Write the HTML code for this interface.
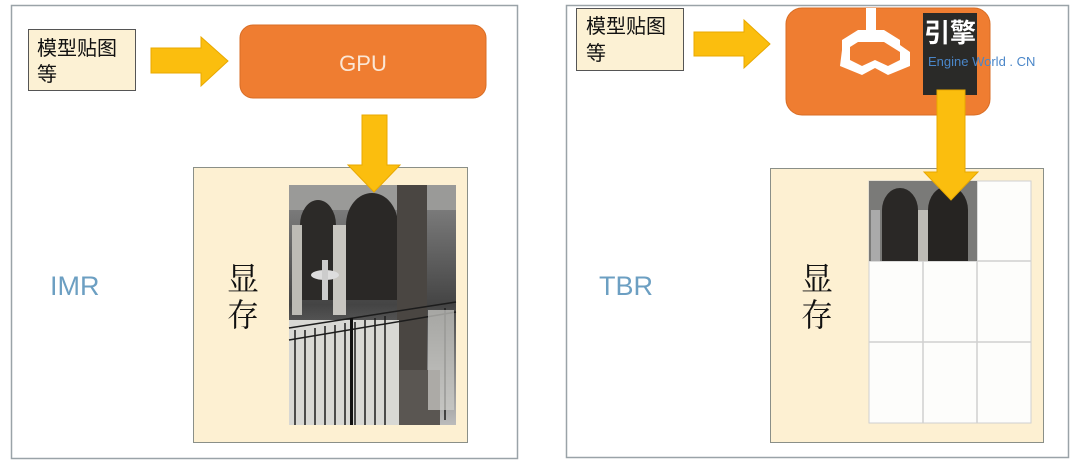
<!DOCTYPE html>
<html><head><meta charset="utf-8"><style>
html,body{margin:0;padding:0;background:#fff;width:1080px;height:467px;overflow:hidden}
svg text{font-family:"Liberation Sans","Noto Sans CJK SC",sans-serif}
svg text.sr{font-family:"Liberation Serif","Noto Serif CJK SC",serif}
</style></head><body>
<svg width="1080" height="467" viewBox="0 0 1080 467" xmlns="http://www.w3.org/2000/svg">
<defs>
<linearGradient id="ph" x1="0" y1="0" x2="0" y2="1">
<stop offset="0" stop-color="#888"/><stop offset="0.5" stop-color="#444"/><stop offset="1" stop-color="#bbb"/>
</linearGradient>
</defs>
<rect x="11.5" y="5.5" width="506" height="453" fill="#fff" stroke="#9aa3a8" stroke-width="1.5"/>
<rect x="566.5" y="5.5" width="502" height="452" fill="#fff" stroke="#9aa3a8" stroke-width="1.5"/>

<!-- LEFT -->
<rect x="28.5" y="29.5" width="107" height="61" fill="#fcf1d4" stroke="#555" stroke-width="1"/>
<text x="37" y="55" font-size="20" fill="#111">模型贴图</text>
<text x="37" y="81" font-size="20" fill="#111">等</text>
<polygon points="151,48 201,48 201,37 228,61 201,86 201,73 151,73" fill="#fbbe0e" stroke="#e8a800"/>
<rect x="240" y="25" width="246" height="73" rx="13" fill="#ef7d31" stroke="#d86d25"/>
<text x="363" y="71" font-size="22" fill="#fbe7d6" text-anchor="middle">GPU</text>
<rect x="193.5" y="167.5" width="274" height="275" fill="#fdf0d2" stroke="#8a8f88" stroke-width="1"/>
<g>
<rect x="289" y="185" width="167" height="240" fill="url(#ph)"/>
<path d="M289,185h167v25h-167z" fill="#9a9a98"/>
<path d="M300,300 V225 a18,25 0 0 1 36,0 V300z" fill="#2c2a28"/>
<path d="M346,300 V225 a26,32 0 0 1 52,0 V300z" fill="#2a2826"/>
<rect x="333" y="225" width="13" height="90" fill="#c8c6c0"/>
<rect x="292" y="225" width="10" height="90" fill="#bdbbb5"/>
<rect x="397" y="185" width="30" height="210" fill="#4a4642"/>
<rect x="390" y="370" width="50" height="55" fill="#5a5652"/>
<ellipse cx="325" cy="275" rx="14" ry="5" fill="#ddd"/>
<rect x="322" y="260" width="6" height="40" fill="#ccc"/>
<rect x="289" y="320" width="110" height="105" fill="#d8d8d4"/>
<g stroke="#1c1c1c" stroke-width="1.5">
<line x1="289" y1="328" x2="456" y2="302"/>
<line x1="289" y1="340" x2="456" y2="312"/>
<line x1="295" y1="330" x2="295" y2="425"/><line x1="305" y1="330" x2="305" y2="425"/>
<line x1="315" y1="328" x2="315" y2="425"/><line x1="325" y1="326" x2="325" y2="425"/>
<line x1="335" y1="325" x2="335" y2="425"/><line x1="345" y1="323" x2="345" y2="425"/>
<line x1="355" y1="322" x2="355" y2="425"/><line x1="365" y1="320" x2="365" y2="425"/>
<line x1="375" y1="318" x2="375" y2="425"/><line x1="385" y1="316" x2="385" y2="425"/>
<line x1="445" y1="308" x2="445" y2="420"/>
</g>
<rect x="350" y="318" width="3" height="107" fill="#111"/>
<rect x="428" y="310" width="26" height="100" fill="#cfcfcb" opacity="0.7"/>
</g>
<polygon points="362,115 387,115 387,165 400,165 374,192 348,165 362,165" fill="#fbbe0e" stroke="#e8a800"/>
<text class="sr" x="243" y="290" font-size="32" fill="#111" text-anchor="middle">显</text>
<text class="sr" x="243" y="326" font-size="32" fill="#111" text-anchor="middle">存</text>
<text x="50" y="295" font-size="27" fill="#6c9fc2">IMR</text>

<!-- RIGHT -->
<rect x="576.5" y="8.5" width="107" height="62" fill="#fcf1d4" stroke="#555" stroke-width="1"/>
<text x="586" y="33" font-size="20" fill="#111">模型贴图</text>
<text x="586" y="60" font-size="20" fill="#111">等</text>
<polygon points="694,32 744,32 744,20 770,44 744,68 744,56 694,56" fill="#fbbe0e" stroke="#e8a800"/>
<rect x="786" y="8" width="204" height="107" rx="16" fill="#ef7d31" stroke="#d86d25"/>
<g fill="#fff">
<rect x="866" y="8" width="10" height="24"/>
<polygon points="858,30 884,30 900,40 900,52 884,42 858,42 842,52 842,40"/>
<polygon points="842,50 850,45 850,60 862,66 875,60 888,66 900,60 900,45 910,52 910,66 888,75 875,68 862,75 840,66"/>
</g>
<rect x="923" y="13" width="54" height="82" fill="#2a2a28"/>
<text x="924" y="42" font-size="26" font-weight="bold" fill="#fff">引擎</text>
<text x="928" y="66" font-size="13" fill="#4a86c8">Engine World . CN</text>
<rect x="770.5" y="168.5" width="273" height="274" fill="#fdf0d2" stroke="#8a8f88" stroke-width="1"/>
<rect x="869" y="181" width="162" height="242" fill="#fdfdfb" stroke="#d0d0d0"/>
<g stroke="#d0d0d0" stroke-width="1.5">
<line x1="923" y1="181" x2="923" y2="423"/><line x1="977" y1="181" x2="977" y2="423"/>
<line x1="869" y1="261" x2="1031" y2="261"/><line x1="869" y1="342" x2="1031" y2="342"/>
</g>
<rect x="869" y="181" width="108" height="80" fill="#7a7a78"/>
<path d="M882,261 V210 a18,22 0 0 1 36,0 V261z" fill="#2a2826"/>
<path d="M928,261 V210 a20,24 0 0 1 40,0 V261z" fill="#262422"/>
<rect x="918" y="210" width="10" height="51" fill="#bdbbb5"/>
<rect x="871" y="210" width="9" height="51" fill="#aaa"/>
<polygon points="937,90 965,90 965,172 978,172 951,200 924,172 937,172" fill="#fbbe0e" stroke="#e8a800"/>
<text class="sr" x="817" y="290" font-size="32" fill="#111" text-anchor="middle">显</text>
<text class="sr" x="817" y="326" font-size="32" fill="#111" text-anchor="middle">存</text>
<text x="599" y="295" font-size="27" fill="#6c9fc2">TBR</text>
</svg>
</body></html>
